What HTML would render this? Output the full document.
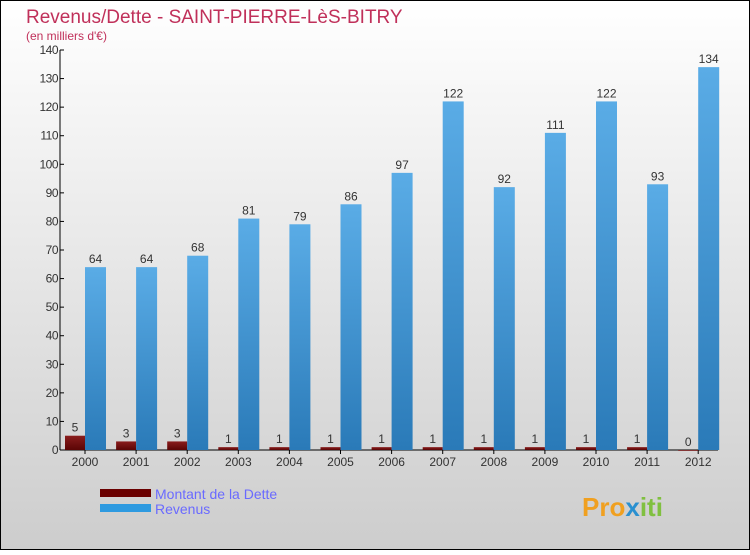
<!DOCTYPE html>
<html><head><meta charset="utf-8"><style>
body{margin:0;width:750px;height:550px;overflow:hidden;font-family:"Liberation Sans",sans-serif}
</style></head><body>
<svg id="chart" width="750" height="550" xmlns="http://www.w3.org/2000/svg">
<defs>
<linearGradient id="bg" x1="0" y1="0" x2="0" y2="1"><stop offset="0" stop-color="#ffffff"/><stop offset="1" stop-color="#cdcdcd"/></linearGradient>
<linearGradient id="blue" x1="0" y1="0" x2="0" y2="1"><stop offset="0" stop-color="#5aace6"/><stop offset="1" stop-color="#2a7ab8"/></linearGradient>
<linearGradient id="red" x1="0" y1="0" x2="0" y2="1"><stop offset="0" stop-color="#8a1d1d"/><stop offset="1" stop-color="#5a0505"/></linearGradient>
</defs>
<rect x="0.5" y="0.5" width="749" height="549" fill="url(#bg)" stroke="#000"/>
<text x="26" y="23" font-size="19" fill="#c0305a">Revenus/Dette - SAINT-PIERRE-LèS-BITRY</text>
<text x="26" y="40" font-size="12" fill="#c0305a">(en milliers d'€)</text>
<g id="plot"></g>
<rect x="100" y="489" width="51" height="8" fill="#6a0000"/>
<text x="155" y="499" font-size="14" fill="#6a6aff">Montant de la Dette</text>
<rect x="100" y="504" width="51" height="8" fill="#2e9ae0"/>
<text x="155" y="514" font-size="14" fill="#6a6aff">Revenus</text>
<text x="582" y="516" font-size="26" font-weight="bold" fill="#f0a020">Pro<tspan fill="#2a90d0">x</tspan><tspan fill="#80c040">iti</tspan></text>
</svg>
<script>
const categories=["2000","2001","2002","2003","2004","2005","2006","2007","2008","2009","2010","2011","2012"];
const debtValues=[5,3,3,1,1,1,1,1,1,1,1,1,0];
const revenueValues=[64,64,68,81,79,86,97,122,92,111,122,93,134];
const yTicks=[0,10,20,30,40,50,60,70,80,90,100,110,120,130,140];
const NS="http://www.w3.org/2000/svg";
const g=document.getElementById('plot');
const y0=450,y1=50,yMax=140,x0=85,step=51.1;
const y=v=>y0-(v/yMax)*(y0-y1);
const x=i=>x0+i*step;
function mk(t,a){const e=document.createElementNS(NS,t);for(const k in a)e.setAttribute(k,a[k]);g.appendChild(e);return e;}
let ax=mk('line',{x1:60,y1:50,x2:60,y2:450,stroke:'#000'});


let bx=mk('line',{x1:60,y1:450,x2:718,y2:450,stroke:'#000'});


yTicks.forEach(v=>{
 let t=mk('line',{x1:60,y1:y(v),x2:64,y2:y(v),stroke:'#000'});
 
 
 let l=mk('text',{x:58,y:y(v)+4,'font-size':12,'text-anchor':'end',fill:'#333','letter-spacing':'-0.5'});
 l.textContent=v;
 
 
});
categories.forEach((c,i)=>{
 const cx=x(i);
 let t=mk('line',{x1:cx,y1:450,x2:cx,y2:454,stroke:'#000'});
 
 
 let l=mk('text',{x:cx,y:466,'font-size':12,'text-anchor':'middle',fill:'#333'});
 l.textContent=c;
 
 
 const dv=debtValues[i];
 let r=mk('rect',{x:cx-20,y:y(dv),width:20,height:Math.max(y0-y(dv),dv>0?0:0.8),fill:'url(#red)'});
 
 
 let dl=mk('text',{x:cx-10,y:y(dv)-4,'font-size':12,'text-anchor':'middle',fill:'#333'});
 dl.textContent=dv;
 
 
 const rv=revenueValues[i];
 let b=mk('rect',{x:cx,y:y(rv),width:21,height:y0-y(rv),fill:'url(#blue)'});
 
 
 let bl=mk('text',{x:cx+10.5,y:y(rv)-4,'font-size':12,'text-anchor':'middle',fill:'#333'});
 bl.textContent=rv;
 
 
});
</script>
</body></html>
